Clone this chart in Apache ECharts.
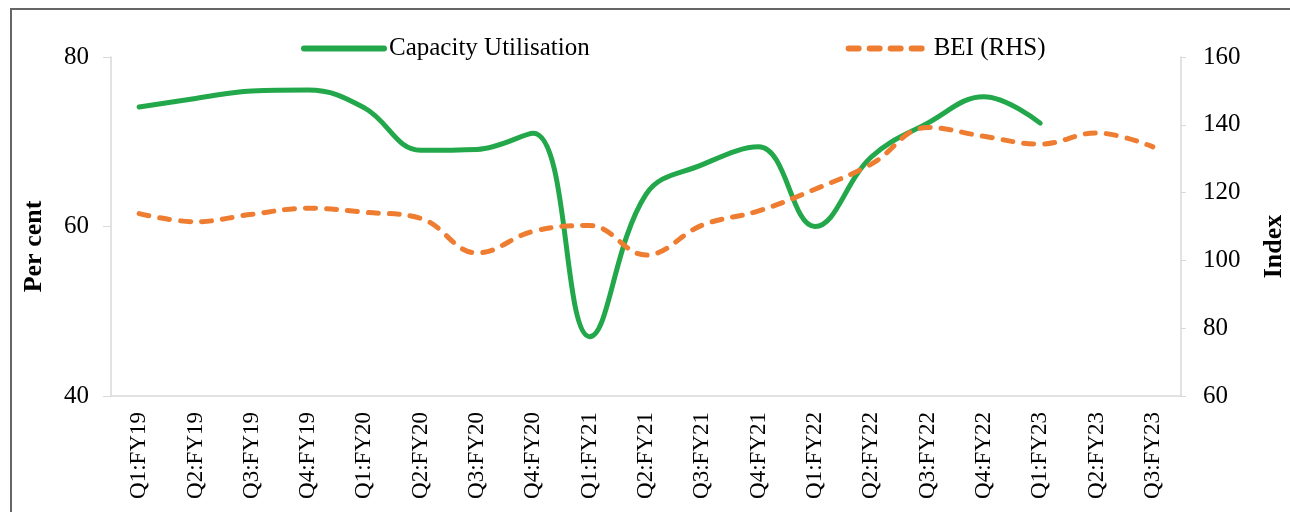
<!DOCTYPE html>
<html>
<head>
<meta charset="utf-8">
<script src="https://cdn.jsdelivr.net/npm/echarts@6/dist/echarts.min.js"></script>
<style>
  html, body { margin: 0; padding: 0; background: #fff; overflow: hidden; width: 1290px; height: 512px; }
  #frame {
    position: absolute; left: 10px; top: 8px; width: 1280px; height: 504px;
    border-left: 2px solid #666; border-top: 2px solid #666; box-sizing: border-box;
  }
  #chart { position: absolute; left: 0; top: 0; width: 1290px; height: 512px; }
</style>
</head>
<body>
<div id="frame"></div>
<div id="chart"></div>
<script>
// quarters on the x axis
var quarters = ['Q1:FY19', 'Q2:FY19', 'Q3:FY19', 'Q4:FY19', 'Q1:FY20', 'Q2:FY20', 'Q3:FY20',
  'Q4:FY20', 'Q1:FY21', 'Q2:FY21', 'Q3:FY21', 'Q4:FY21', 'Q1:FY22', 'Q2:FY22', 'Q3:FY22',
  'Q4:FY22', 'Q1:FY23', 'Q2:FY23', 'Q3:FY23'];

// capacity utilisation, per cent (left axis)
var capacityUtil = [74.1, 75.1, 76.0, 76.1, 74.0, 69.0, 69.1, 71.0, 47.0, 63.8, 67.3, 69.4,
  60.0, 68.2, 72.2, 75.3, 72.2, null, null];

// BEI index (right axis)
var bei = [113.8, 111.4, 113.6, 115.4, 114.2, 112.4, 102.2, 108.6, 110.3, 101.6, 110.4, 114.6,
  121.0, 128.4, 139.2, 136.6, 134.3, 137.6, 133.5];

var leftTicks = { min: 40, max: 80, interval: 20 };
var rightTicks = { min: 60, max: 160, interval: 20 };

var FONT = '"Liberation Serif", "Times New Roman", serif';
var GREEN = '#22a84a';
var ORANGE = '#ee7d31';
var AXIS_GREY = '#d9d9d9';

var chart = echarts.init(document.getElementById('chart'));

var option = {
  backgroundColor: 'transparent',
  animation: false,
  textStyle: { fontFamily: FONT, color: '#000' },
  legend: {
    top: 31,
    left: 296,
    itemWidth: 80,
    itemHeight: 14,
    itemGap: 256,
    itemStyle: { opacity: 0 },
    lineStyle: { width: 6 },
    textStyle: { fontFamily: FONT, fontSize: 25, color: '#000' },
    data: ['Capacity Utilisation', 'BEI (RHS)']
  },
  grid: { left: 111, right: 109, top: 57, bottom: 116, outerBoundsMode: 'none' },
  xAxis: {
    type: 'category',
    data: quarters,
    boundaryGap: true,
    axisLine: { lineStyle: { color: AXIS_GREY, width: 1.5 } },
    axisTick: { show: false },
    axisLabel: { rotate: 90, fontFamily: FONT, fontSize: 23, color: '#000', margin: 16, interval: 0 }
  },
  yAxis: [
    {
      type: 'value',
      min: leftTicks.min, max: leftTicks.max, interval: leftTicks.interval,
      name: 'Per cent',
      nameLocation: 'middle',
      nameGap: 64,
      nameRotate: 90,
      nameTextStyle: { fontFamily: FONT, fontSize: 26, fontWeight: 'bold', color: '#000', padding: [0, 40, 0, 0] },
      axisLine: { show: true, lineStyle: { color: AXIS_GREY, width: 1.5 } },
      axisTick: { show: true, length: 8, lineStyle: { color: AXIS_GREY } },
      axisLabel: { fontFamily: FONT, fontSize: 25, color: '#000', margin: 22 },
      splitLine: { show: false }
    },
    {
      type: 'value',
      position: 'right',
      min: rightTicks.min, max: rightTicks.max, interval: rightTicks.interval,
      name: 'Index',
      nameLocation: 'middle',
      nameGap: 80,
      nameRotate: 90,
      nameTextStyle: { fontFamily: FONT, fontSize: 26, fontWeight: 'bold', color: '#000', padding: [0, 40, 0, 0] },
      axisLine: { show: true, lineStyle: { color: AXIS_GREY, width: 1.5 } },
      axisTick: { show: true, length: 5, lineStyle: { color: AXIS_GREY } },
      axisLabel: { fontFamily: FONT, fontSize: 25, color: '#000', margin: 22 },
      splitLine: { show: false }
    }
  ],
  series: [
    {
      name: 'Capacity Utilisation',
      type: 'line',
      yAxisIndex: 0,
      data: capacityUtil,
      smooth: 0.4,
      symbol: 'none',
      lineStyle: { color: GREEN, width: 5, cap: 'round' },
      itemStyle: { color: GREEN }
    },
    {
      name: 'BEI (RHS)',
      type: 'line',
      yAxisIndex: 1,
      data: bei,
      smooth: 0.4,
      symbol: 'none',
      lineStyle: { color: ORANGE, width: 5, type: [10, 11], cap: 'round' },
      itemStyle: { color: ORANGE }
    }
  ]
};

chart.setOption(option);
</script>
</body>
</html>
